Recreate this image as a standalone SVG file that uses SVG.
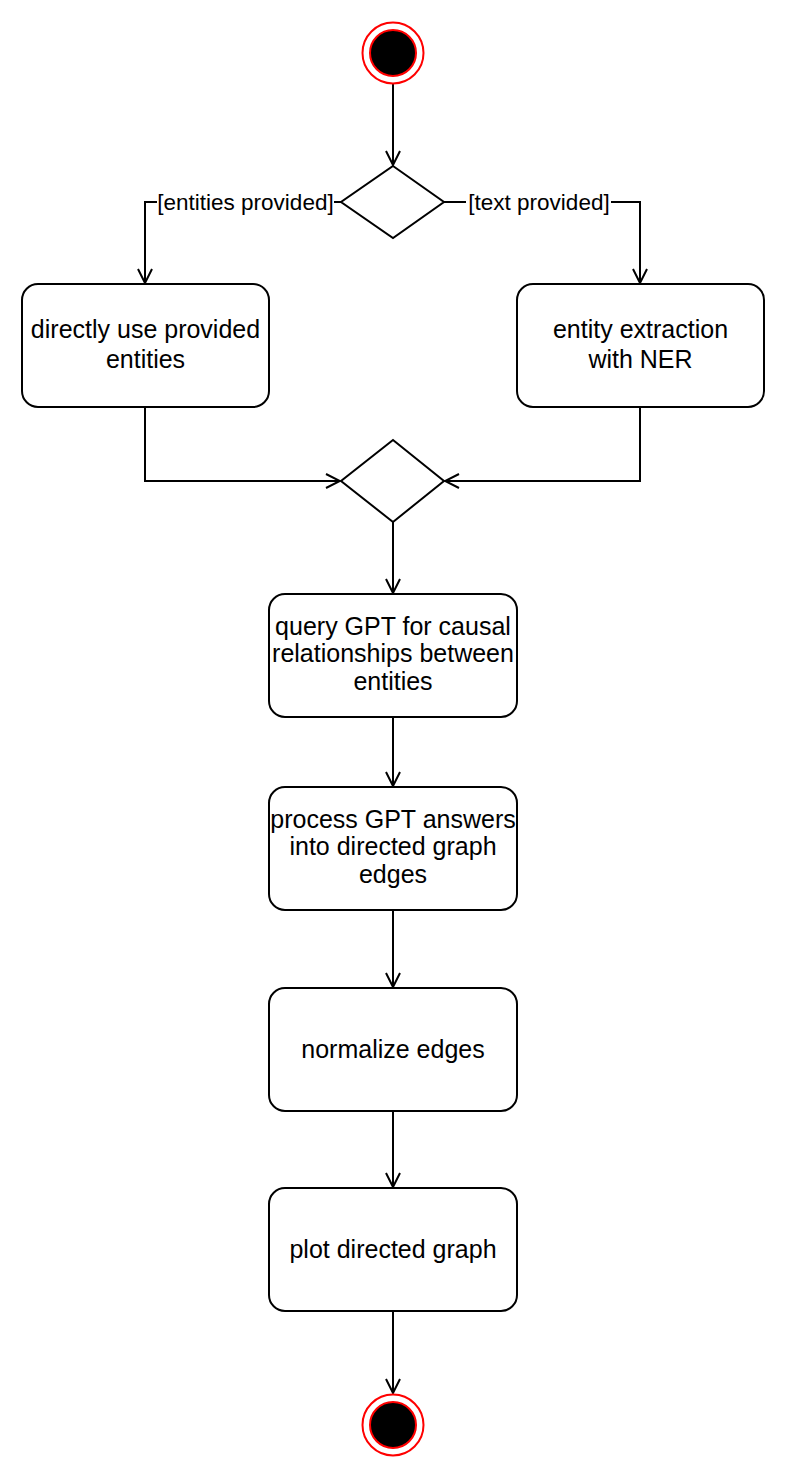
<svg xmlns="http://www.w3.org/2000/svg" width="786" height="1478" viewBox="0 0 786 1478">
<defs>
<marker id="arr" viewBox="0 0 20 20" refX="18" refY="10" markerWidth="20" markerHeight="20" markerUnits="userSpaceOnUse" orient="auto">
<path d="M4,3 L18,10 L4,17" fill="none" stroke="#000" stroke-width="2"/>
</marker>
</defs>
<style>
.box{fill:#fff;stroke:#000;stroke-width:2}
.dia{fill:#fff;stroke:#000;stroke-width:2}
.t{font-family:"Liberation Sans",Arial,sans-serif;font-size:25px;fill:#000;text-anchor:middle}
.lbl{font-family:"Liberation Sans",Arial,sans-serif;font-size:22.5px;fill:#000;text-anchor:middle}
.edge{fill:none;stroke:#000;stroke-width:2;marker-end:url(#arr)}
.plain{fill:none;stroke:#000;stroke-width:2}
</style>
<rect width="786" height="1478" fill="#fff"/>
<g id="connectors">
<path class="edge" d="M393,84 L393,165"/>
<path class="plain" d="M341,202 L334,202"/>
<path class="edge" d="M157,202 L145,202 L145,283"/>
<path class="plain" d="M444,202 L466,202"/>
<path class="edge" d="M611,202 L640,202 L640,283"/>
<path class="edge" d="M145,407 L145,481 L340,481"/>
<path class="edge" d="M640,407 L640,481 L445,481"/>
<path class="edge" d="M393,522 L393,593"/>
<path class="edge" d="M393,717 L393,786"/>
<path class="edge" d="M393,910 L393,987"/>
<path class="edge" d="M393,1111 L393,1187"/>
<path class="edge" d="M393,1311 L393,1393"/>
<rect x="157" y="189" width="177" height="27" fill="#fff"/>
<text class="lbl" x="245.5" y="210">[entities provided]</text>
<rect x="467" y="189" width="144" height="27" fill="#fff"/>
<text class="lbl" x="539" y="210">[text provided]</text>
</g>
<g id="start">
<circle cx="393" cy="53" r="30.5" fill="#fff" stroke="#ff0000" stroke-width="2"/>
<circle cx="393" cy="53" r="23" fill="#000" stroke="#ff0000" stroke-width="2"/>
</g>
<g id="decision1">
<polygon class="dia" points="393,166 444,202 393,238 341,202"/>
</g>
<g id="node-direct">
<rect class="box" x="22" y="284" width="247" height="123" rx="16"/>
<text class="t" x="145.5" y="338">directly use provided</text>
<text class="t" x="145.5" y="368">entities</text>
</g>
<g id="node-ner">
<rect class="box" x="517" y="284" width="247" height="123" rx="16"/>
<text class="t" x="640.5" y="338">entity extraction</text>
<text class="t" x="640.5" y="368">with NER</text>
</g>
<g id="merge">
<polygon class="dia" points="393,440 444,481 393,522 341,481"/>
</g>
<g id="node-query">
<rect class="box" x="269" y="594" width="248" height="123" rx="16"/>
<text class="t" x="393" y="635">query GPT for causal</text>
<text class="t" x="393" y="662">relationships between</text>
<text class="t" x="393" y="690">entities</text>
</g>
<g id="node-process">
<rect class="box" x="269" y="787" width="248" height="123" rx="16"/>
<text class="t" x="393" y="828">process GPT answers</text>
<text class="t" x="393" y="855">into directed graph</text>
<text class="t" x="393" y="883">edges</text>
</g>
<g id="node-normalize">
<rect class="box" x="269" y="988" width="248" height="123" rx="16"/>
<text class="t" x="393" y="1058">normalize edges</text>
</g>
<g id="node-plot">
<rect class="box" x="269" y="1188" width="248" height="123" rx="16"/>
<text class="t" x="393" y="1258">plot directed graph</text>
</g>
<g id="end">
<circle cx="393" cy="1425" r="30.5" fill="#fff" stroke="#ff0000" stroke-width="2"/>
<circle cx="393" cy="1425" r="23" fill="#000" stroke="#ff0000" stroke-width="2"/>
</g>
</svg>
